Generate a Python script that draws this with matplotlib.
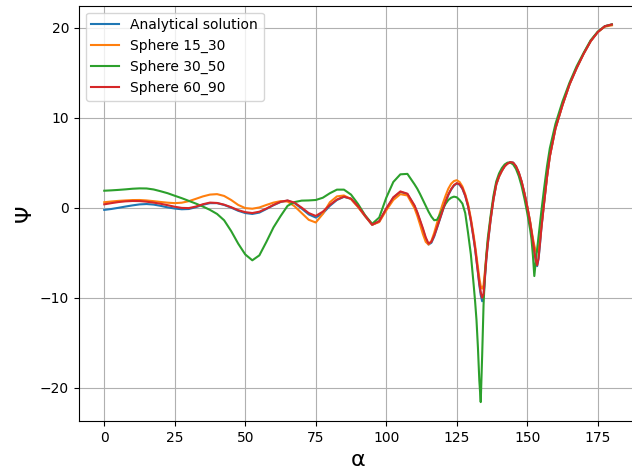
import matplotlib
matplotlib.use("Agg")
import matplotlib.pyplot as plt

# angle grid (degrees), denser around the sharp dips
alpha = [0, 2.5, 5, 7.5, 10, 12.5, 15, 17.5, 20, 22.5,
         25, 27.5, 30, 32.5, 35, 37.5, 40, 42.5, 45, 47.5,
         50, 52.5, 55, 57.5, 60, 62.5, 65, 67.5, 70, 72.5,
         75, 77.5, 80, 82.5, 85, 87.5, 90, 92.5, 95, 97.5,
         100, 102.5, 105, 107.5,
         110, 111, 112, 113, 114, 115, 116, 117, 118, 119,
         120, 121, 122, 123, 124, 125,
         126, 127, 128, 129, 130, 131, 131.5, 132, 132.5, 133,
         133.5, 134, 134.5, 135, 135.5, 136, 137, 138, 139, 140,
         141, 142, 143, 144, 145, 146, 147, 148, 149, 150,
         151, 151.5, 152, 152.5, 153, 153.5, 154, 154.5, 155, 156,
         157, 158,
         160, 162.5, 165, 167.5, 170, 172.5, 175, 177.5, 180]

psi_analytical = [-0.25, -0.15, -0.02, 0.12, 0.25, 0.36, 0.4, 0.34, 0.2, 0.03,
                  -0.1, -0.18, -0.15, 0.05, 0.32, 0.5, 0.5, 0.3, 0.0, -0.35,
                  -0.6, -0.7, -0.55, -0.15, 0.27, 0.62, 0.78, 0.5, -0.1, -0.75,
                  -1.1, -0.65, 0.2, 0.85, 1.2, 0.98, 0.12, -0.95, -1.9, -1.55,
                  -0.12, 1.1, 1.75, 1.5,
                  0.2, -0.6, -1.5, -2.45, -3.45, -4.1, -3.9, -3.2, -2.25, -1.3,
                  -0.35, 0.6, 1.4, 2.0, 2.45, 2.68,
                  2.55, 2.1, 1.3, 0.15, -1.5, -3.5, -4.6, -5.9, -7.2, -8.6,
                  -9.7, -10.4, -9.9, -7.8, -5.7, -4.1, -1.4, 0.85, 2.55, 3.45,
                  4.1, 4.6, 4.9, 5.05, 5.0, 4.6, 3.9, 2.9, 1.6, 0.1,
                  -1.6, -2.7, -3.8, -4.9, -5.9, -6.5, -5.7, -4.1, -2.3, 0.6,
                  3.4, 5.7,
                  8.8, 11.4, 13.7, 15.5, 17.1, 18.5, 19.5, 20.15, 20.35]

psi_15_30 = [0.6, 0.68, 0.75, 0.8, 0.84, 0.85, 0.8, 0.72, 0.63, 0.55,
             0.5, 0.55, 0.72, 0.98, 1.25, 1.45, 1.5, 1.3, 0.85, 0.3,
             -0.05, -0.12, 0.02, 0.3, 0.56, 0.72, 0.68, 0.15, -0.6, -1.35,
             -1.65, -0.7, 0.6, 1.25, 1.35, 0.95, 0.05, -0.95, -1.9, -1.6,
             -0.3, 0.85, 1.5, 1.35,
             -0.05, -0.9, -1.9, -2.95, -3.8, -4.1, -3.7, -2.8, -1.7, -0.6,
             0.4, 1.3, 2.1, 2.65, 2.95, 3.05,
             2.85, 2.35, 1.5, 0.4, -1.2, -3.1, -4.2, -5.4, -6.6, -7.8,
             -8.7, -9.0, -8.6, -7.0, -5.3, -3.8, -1.2, 0.95, 2.6, 3.45,
             4.1, 4.6, 4.9, 5.0, 4.95, 4.55, 3.85, 2.85, 1.55, 0.1,
             -1.5, -2.5, -3.4, -4.2, -4.8, -4.9, -4.6, -3.6, -2.1, 0.7,
             3.4, 5.7,
             8.8, 11.4, 13.7, 15.5, 17.1, 18.5, 19.5, 20.1, 20.25]

psi_30_50 = [1.88, 1.92, 1.97, 2.03, 2.1, 2.14, 2.13, 2.02, 1.82, 1.6,
             1.32, 1.05, 0.75, 0.45, 0.12, -0.25, -0.7, -1.4, -2.6, -4.0,
             -5.2, -5.85, -5.3, -3.8, -2.2, -0.95, 0.2, 0.62, 0.78, 0.8,
             0.85, 1.1, 1.6, 2.0, 2.0, 1.45, 0.4, -0.85, -1.8, -1.1,
             1.1, 2.85, 3.7, 3.75,
             2.6, 2.1, 1.5, 0.85, 0.2, -0.45, -1.0, -1.4, -1.35, -0.8,
             -0.15, 0.4, 0.85, 1.1, 1.22, 1.15,
             0.85, 0.45, -0.6, -2.8, -5.2, -8.6, -10.4, -12.5, -15.5, -19.2,
             -21.6, -16.5, -10.8, -7.4, -5.2, -3.4, -0.9, 1.3, 2.9, 3.8,
             4.4, 4.8, 5.0, 5.0, 4.8, 4.3, 3.5, 2.4, 1.0, -0.6,
             -2.4, -3.5, -5.3, -7.6, -6.0, -4.6, -3.2, -1.8, -0.4, 2.2,
             4.6, 6.6,
             9.3, 11.8, 13.9, 15.7, 17.2, 18.6, 19.55, 20.15, 20.35]

psi_60_90 = [0.37, 0.5, 0.62, 0.7, 0.74, 0.73, 0.66, 0.56, 0.43, 0.27,
             0.1, -0.03, -0.05, 0.12, 0.38, 0.56, 0.52, 0.33, 0.05, -0.28,
             -0.5, -0.6, -0.45, -0.1, 0.3, 0.65, 0.8, 0.55, 0.0, -0.6,
             -0.92, -0.45, 0.3, 0.9, 1.22, 1.0, 0.15, -0.9, -1.9, -1.5,
             -0.1, 1.15, 1.8, 1.55,
             0.25, -0.5, -1.4, -2.3, -3.3, -4.0, -3.8, -3.1, -2.2, -1.25,
             -0.3, 0.65, 1.45, 2.05, 2.5, 2.72,
             2.6, 2.15, 1.35, 0.2, -1.4, -3.4, -4.5, -5.8, -7.1, -8.4,
             -9.4, -10.0, -9.6, -7.6, -5.6, -4.0, -1.3, 0.9, 2.6, 3.5,
             4.1, 4.6, 4.9, 5.05, 5.0, 4.6, 3.9, 2.9, 1.6, 0.1,
             -1.6, -2.6, -3.7, -4.8, -5.8, -6.4, -5.6, -4.0, -2.3, 0.6,
             3.4, 5.7,
             8.8, 11.4, 13.7, 15.5, 17.1, 18.5, 19.5, 20.15, 20.35]

series = [
    ("Analytical solution", psi_analytical),
    ("Sphere 15_30", psi_15_30),
    ("Sphere 30_50", psi_30_50),
    ("Sphere 60_90", psi_60_90),
]

fig = plt.figure(figsize=(6.32, 4.71), dpi=100)
# the original is cropped: right spine sits past the image edge
ax = fig.add_axes([0.1248, 0.1062, 0.8835, 0.882])

for name, values in series:
    ax.plot(alpha, values, label=name)

ax.set_xlabel("α", fontsize=16)
ax.set_ylabel("Ψ", fontsize=16)
ax.spines["right"].set_visible(False)
ax.grid(True)
ax.legend(loc="upper left")

fig.savefig("out.png", dpi=100)
plt.close(fig)
